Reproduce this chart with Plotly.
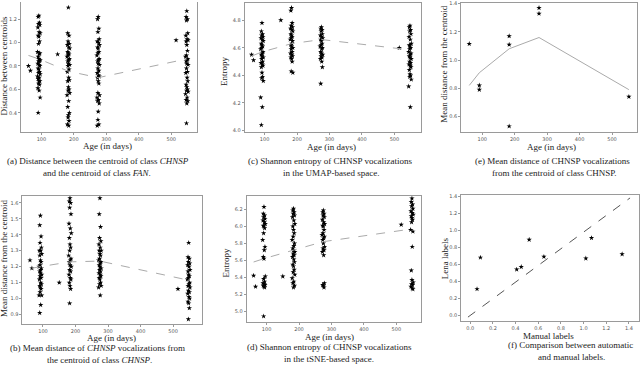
import plotly.graph_objects as go

# ages (days) of the recordings in each age group, per point
age_3m = [92, 90, 94, 91, 95, 89, 93, 96, 90, 92, 94, 91, 88, 95, 93, 90, 92, 96, 91, 94,
          89, 93, 95, 90, 92, 94, 91, 96, 88, 93, 90, 95, 92, 91, 94, 89, 93, 96, 90, 92]
age_6m = [183, 181, 185, 182, 186, 180, 184, 187, 181, 183, 185, 182, 179, 186, 184, 181, 183, 187, 182, 185,
          180, 184, 186, 181, 183, 185, 182, 187, 179, 184, 181, 186, 183, 182, 185, 180, 184, 187, 181, 183]
age_9m = [275, 273, 277, 274, 278, 272, 276, 279, 273, 275, 277, 274, 271, 278, 276, 273, 275, 279, 274, 277,
          272, 276, 278, 273, 275, 277, 274, 279, 271, 276, 273, 278, 275, 274, 277, 272, 276, 279, 273, 275]
age_18m = [548, 546, 550, 547, 551, 545, 549, 552, 546, 548, 550, 547, 544, 551, 549, 546, 548, 552, 547, 550,
           545, 549, 551, 546, 548, 550, 547, 552, 544, 549, 546, 551, 548, 547, 550, 545, 549, 552, 546, 548]
other_ages = [60, 66, 150, 515]

# (a) distance between centroids CHNSP / FAN
a_3m = [1.23, 1.22, 1.17, 1.16, 1.15, 1.13, 1.09, 1.08, 1.06, 1.05, 1.01, 0.99, 0.92, 0.91, 0.90, 0.88, 0.86, 0.85, 0.84, 0.84,
        0.82, 0.81, 0.80, 0.78, 0.77, 0.75, 0.74, 0.73, 0.71, 0.70, 0.69, 0.67, 0.67, 0.65, 0.64, 0.61, 0.59, 0.53, 0.40]
a_6m = [1.30, 1.08, 1.06, 1.01, 0.99, 0.98, 0.96, 0.95, 0.92, 0.91, 0.90, 0.89, 0.88, 0.86, 0.85, 0.84, 0.82, 0.81, 0.80,
        0.77, 0.75, 0.70, 0.68, 0.67, 0.62, 0.60, 0.59, 0.57, 0.55, 0.50, 0.45, 0.40, 0.38, 0.36, 0.33, 0.30, 0.29]
a_9m = [1.22, 1.20, 1.12, 1.09, 1.03, 1.01, 1.00, 0.98, 0.96, 0.95, 0.92, 0.91, 0.89, 0.86, 0.85, 0.84, 0.82, 0.81,
        0.78, 0.76, 0.74, 0.72, 0.71, 0.70, 0.67, 0.65, 0.57, 0.55, 0.53, 0.51, 0.50, 0.48, 0.41, 0.34, 0.30, 0.29]
a_18m = [1.27, 1.22, 1.20, 1.19, 1.08, 1.06, 1.03, 1.02, 1.01, 0.98, 0.93, 0.89, 0.88, 0.86, 0.85, 0.84, 0.82,
         0.81, 0.78, 0.75, 0.74, 0.70, 0.67, 0.64, 0.62, 0.60, 0.59, 0.58, 0.56, 0.53, 0.51, 0.50, 0.48, 0.31]
a_other = [0.80, 0.76, 0.90, 1.02]
a_trend_age = [60, 92, 183, 275, 548]
a_trend = [0.89, 0.86, 0.755, 0.70, 0.86]

# (c) entropy, UMAP space
c_3m = [4.78, 4.72, 4.70, 4.69, 4.68, 4.67, 4.66, 4.65, 4.63, 4.62, 4.61, 4.60, 4.59, 4.57, 4.56, 4.55,
        4.54, 4.53, 4.52, 4.50, 4.49, 4.48, 4.47, 4.46, 4.42, 4.39, 4.38, 4.36, 4.24, 4.17, 4.04]
c_6m = [4.89, 4.87, 4.78, 4.76, 4.75, 4.74, 4.73, 4.72, 4.70, 4.69, 4.68, 4.67, 4.66, 4.65, 4.63, 4.62,
        4.61, 4.60, 4.59, 4.57, 4.56, 4.55, 4.54, 4.53, 4.52, 4.50, 4.43, 4.42]
c_9m = [4.75, 4.74, 4.73, 4.72, 4.70, 4.69, 4.68, 4.67, 4.66, 4.65, 4.63, 4.62, 4.61, 4.60, 4.59, 4.57,
        4.56, 4.55, 4.54, 4.53, 4.52, 4.50, 4.46, 4.34]
c_18m = [4.76, 4.75, 4.73, 4.72, 4.70, 4.68, 4.66, 4.63, 4.62, 4.61, 4.60, 4.59, 4.57, 4.56, 4.55, 4.54,
         4.53, 4.52, 4.50, 4.49, 4.48, 4.47, 4.46, 4.44, 4.41, 4.40, 4.39, 4.37, 4.32, 4.17]
c_other = [4.55, 4.51, 4.80, 4.60]
c_trend_age = [60, 92, 183, 275, 548]
c_trend = [4.54, 4.57, 4.63, 4.66, 4.585]

# (e) mean distance from centroid CHNSP
e_age = [60, 91, 91, 183, 183, 183, 275, 275, 552]
e_val = [1.115, 0.82, 0.79, 1.17, 1.11, 0.53, 1.37, 1.33, 0.74]
e_trend_age = [60, 91, 183, 275, 552]
e_trend = [0.82, 0.91, 1.08, 1.16, 0.79]

# (b) mean distance of CHNSP vocalizations from CHNSP centroid
b_3m = [1.52, 1.46, 1.39, 1.35, 1.32, 1.30, 1.30, 1.28, 1.27, 1.24, 1.23, 1.21, 1.20, 1.19, 1.18, 1.17,
        1.16, 1.15, 1.14, 1.13, 1.12, 1.10, 1.09, 1.08, 1.07, 1.06, 1.04, 1.02, 1.02, 0.96, 0.91]
b_6m = [1.63, 1.61, 1.60, 1.57, 1.53, 1.47, 1.44, 1.41, 1.38, 1.34, 1.32, 1.30, 1.27, 1.25, 1.24, 1.23,
        1.21, 1.20, 1.18, 1.17, 1.15, 1.13, 1.12, 1.10, 1.08, 1.06, 0.97]
b_9m = [1.63, 1.53, 1.45, 1.38, 1.36, 1.34, 1.32, 1.30, 1.30, 1.28, 1.27, 1.25, 1.24, 1.23, 1.22, 1.21,
        1.20, 1.19, 1.18, 1.17, 1.16, 1.15, 1.14, 1.13, 1.12, 1.10, 1.09, 1.08, 1.07, 1.02]
b_18m = [1.35, 1.26, 1.25, 1.23, 1.22, 1.21, 1.20, 1.18, 1.17, 1.15, 1.14, 1.13, 1.12, 1.10, 1.09, 1.08,
         1.08, 1.07, 1.05, 1.04, 1.03, 1.01, 1.00, 0.98, 0.97, 0.94, 0.87]
b_other = [1.24, 1.19, 1.10, 1.06]
b_trend_age = [66, 92, 183, 275, 548]
b_trend = [1.19, 1.20, 1.23, 1.235, 1.115]

# (d) entropy, tSNE space
d_3m = [6.23, 6.15, 6.13, 6.11, 6.09, 6.07, 6.05, 6.03, 6.01, 6.00, 5.98, 5.92, 5.84, 5.76, 5.72, 5.64,
        5.62, 5.41, 5.38, 5.35, 5.33, 5.32, 5.31, 5.30, 5.29, 5.28, 4.94]
d_6m = [6.21, 6.19, 6.17, 6.15, 6.13, 6.11, 6.07, 6.03, 6.00, 5.96, 5.92, 5.88, 5.84, 5.80, 5.77, 5.74,
        5.72, 5.70, 5.68, 5.66, 5.64, 5.61, 5.58, 5.55, 5.53, 5.49, 5.46, 5.43, 5.39, 5.35, 5.33, 5.30, 5.28]
d_9m = [6.19, 6.17, 6.15, 6.13, 6.11, 6.08, 6.05, 6.03, 6.01, 6.00, 5.96, 5.92, 5.90, 5.88, 5.86, 5.84,
        5.80, 5.76, 5.74, 5.72, 5.70, 5.66, 5.33, 5.31, 5.30, 5.28]
d_18m = [6.33, 6.29, 6.26, 6.24, 6.21, 6.18, 6.16, 6.14, 6.12, 6.10, 6.08, 6.05, 5.96, 5.94, 5.76, 5.48,
         5.37, 5.34, 5.32, 5.31, 5.29, 5.27, 5.26]
d_other = [5.42, 5.29, 5.41, 6.02]
d_trend_age = [60, 92, 183, 275, 548]
d_trend = [5.58, 5.62, 5.72, 5.82, 5.97]

# (f) automatic vs manual labels
f_manual = [0.06, 0.09, 0.41, 0.45, 0.52, 0.65, 1.02, 1.07, 1.34]
f_lena = [0.31, 0.68, 0.54, 0.57, 0.89, 0.69, 0.67, 0.91, 0.72]
f_ref_x = [-0.02, 1.41]
f_ref_y = [-0.02, 1.38]

W, H = 640, 366
SERIF = 'Liberation Serif'
STAR = dict(symbol='star', size=4, color='black', line=dict(width=0))
TREND = dict(color='#aaaaaa', width=1, dash='dash')


def fx(p):
    return p / W


def fy(p):
    return 1 - p / H


fig = go.Figure()


def dots(x, y, ax):
    fig.add_trace(go.Scatter(x=x, y=y, mode='markers', marker=STAR, xaxis='x' + ax, yaxis='y' + ax,
                             showlegend=False, hoverinfo='skip'))


def line(x, y, ax, style):
    fig.add_trace(go.Scatter(x=x, y=y, mode='lines', line=style, xaxis='x' + ax, yaxis='y' + ax,
                             showlegend=False, hoverinfo='skip'))


def age_panel(ax, groups, other, trend_age, trend):
    ages = [age_3m, age_6m, age_9m, age_18m]
    for vals, ag in zip(groups, ages):
        dots(ag[:len(vals)], vals, ax)
    dots(other_ages, other, ax)
    line(trend_age, trend, ax, TREND)


age_panel('', [a_3m, a_6m, a_9m, a_18m], a_other, a_trend_age, a_trend)
age_panel('2', [c_3m, c_6m, c_9m, c_18m], c_other, c_trend_age, c_trend)
line(e_trend_age, e_trend, '3', dict(color='#aaaaaa', width=1))
dots(e_age, e_val, '3')
age_panel('4', [b_3m, b_6m, b_9m, b_18m], b_other, b_trend_age, b_trend)
age_panel('5', [d_3m, d_6m, d_9m, d_18m], d_other, d_trend_age, d_trend)
line(f_ref_x, f_ref_y, '6', dict(color='#555555', width=1, dash='dash'))
dots(f_manual, f_lena, '6')


def axis(dom, rng, dtick, fmt, anchor, mirror=True):
    return dict(domain=dom, range=rng, dtick=dtick, tick0=0, tickformat=fmt, anchor=anchor,
                showline=True, linecolor='#9a9a9a', linewidth=1, mirror=mirror,
                ticks='outside', ticklen=2, tickwidth=0.6, tickcolor='#9a9a9a',
                tickfont=dict(size=5, color='#555555', family='DejaVu Sans'),
                showgrid=False, zeroline=False)


# panel boxes in pixels: left, right, top, bottom
boxes = {
    '': (21, 197, 0, 131),
    '2': (245, 422, 1, 131),
    '3': (462, 638, 1, 131),
    '4': (22.5, 202, 195.5, 325),
    '5': (247, 422, 195.5, 323),
    '6': (462, 640, 195, 322),
}
xranges = {'': [36.9, 578.5], '2': [38.5, 583], '3': [35.4, 577],
           '4': [36.9, 588], '5': [38.5, 577], '6': [-0.079, 1.489]}
yranges = {'': [0.236, 1.347], '2': [3.99, 4.925], '3': [0.49, 1.405],
           '4': [0.838, 1.644], '5': [4.868, 6.36], '6': [-0.07, 1.41]}
ydticks = {'': 0.2, '2': 0.2, '3': 0.2, '4': 0.1, '5': 0.2, '6': 0.2}

layout = {}
for ax, (l, r, t, b) in boxes.items():
    xd = 0.2 if ax == '6' else 100
    xf = '.1f' if ax == '6' else 'd'
    layout['xaxis' + ax] = axis([fx(l), fx(r)], xranges[ax], xd, xf, 'y' + ax, mirror=(ax != ''))
    layout['yaxis' + ax] = axis([fy(b), fy(t)], yranges[ax], ydticks[ax], '.1f', 'x' + ax)

fig.update_layout(**layout)

notes = []


def text(s, x, y, size=9, angle=0):
    notes.append(dict(text=s, x=fx(x), y=fy(y), xref='paper', yref='paper', showarrow=False,
                      textangle=angle, xanchor='center', yanchor='middle',
                      font=dict(family=SERIF, size=size, color='#222222')))


# axis titles
text('Age (in days)', 108, 145)
text('Age (in days)', 332, 146)
text('Age (in days)', 552, 146)
text('Age (in days)', 112, 339)
text('Age (in days)', 330, 338)
text('Manual labels', 549, 337)
text('Distance between centroids', 4, 64, angle=-90)
text('Entropy', 225, 70, angle=-90)
text('Mean distance from the centroid', 445, 63, angle=-90)
text('Mean distance from the centroid', 4, 258, angle=-90)
text('Entropy', 226, 263, angle=-90)
text('Lena labels', 446, 258, angle=-90)

# captions
text('(a) Distance between the centroid of class <i>CHNSP</i>', 98, 160)
text('and the centroid of class <i>FAN</i>.', 97, 172)
text('(c) Shannon entropy of CHNSP vocalizations', 331, 160)
text('in the UMAP-based space.', 332, 172)
text('(e) Mean distance of CHNSP vocalizations', 553, 160)
text('from the centroid of class CHNSP.', 555, 172)
text('(b) Mean distance of <i>CHNSP</i> vocalizations from', 98, 349)
text('the centroid of class <i>CHNSP</i>.', 100, 361)
text('(d) Shannon entropy of CHNSP vocalizations', 330, 348)
text('in the tSNE-based space.', 330, 360)
text('(f) Comparison between automatic', 571, 346)
text('and manual labels.', 572, 358)

fig.update_layout(annotations=notes, width=W, height=H, margin=dict(l=0, r=0, t=0, b=0),
                  paper_bgcolor='white', plot_bgcolor='white', showlegend=False)

fig.write_html('out.html', config=dict(displayModeBar=False),
               post_script="document.body.style.margin='0';")
